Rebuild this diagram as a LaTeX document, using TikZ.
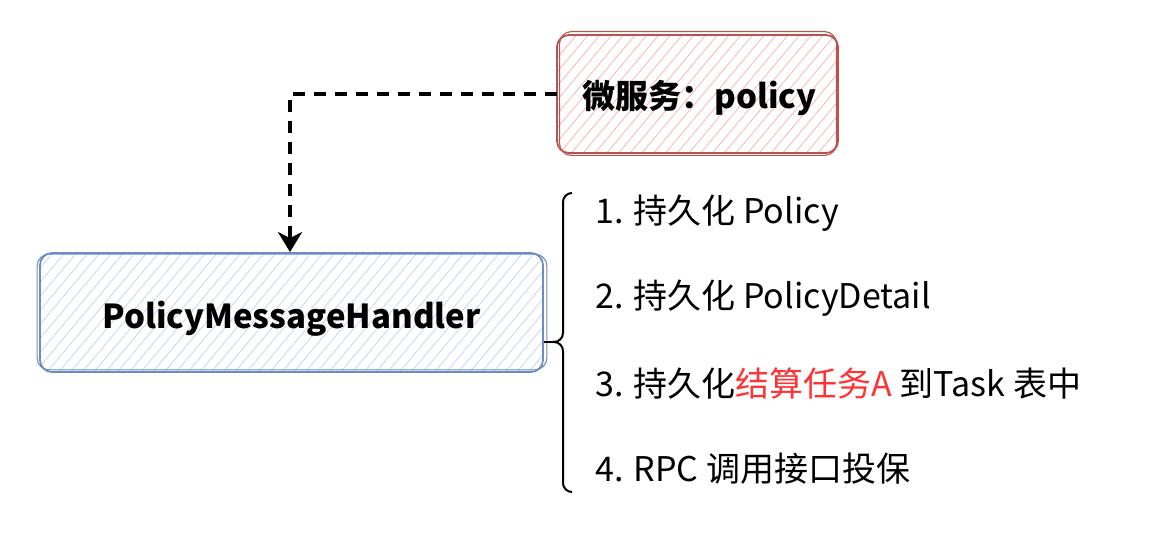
\documentclass[tikz,border=0pt]{standalone}
\usepackage{fontspec}
\setmainfont{Noto Sans CJK SC}
\usetikzlibrary{arrows.meta,patterns.meta,calc}
\definecolor{redline}{HTML}{B85450}
\definecolor{redhatch}{HTML}{F5BDBA}
\definecolor{blueline}{HTML}{6C8EBF}
\definecolor{bluehatch}{HTML}{C6DAF4}
\definecolor{hilite}{HTML}{FF3333}
\tikzset{
  sketchbox/.style={draw, line width=1.8pt, rounded corners=12pt, inner sep=0pt},
  redbox/.style={sketchbox, draw=redline, pattern={Lines[angle=50,distance=9pt,line width=0.9pt]}, pattern color=redhatch},
  bluebox/.style={sketchbox, draw=blueline, pattern={Lines[angle=50,distance=9pt,line width=0.9pt]}, pattern color=bluehatch},
  outline2/.style={line width=1.1pt, rounded corners=12pt},
  flow/.style={line width=3.8pt, dash pattern=on 12pt off 9pt, -{Stealth[length=20pt,width=24pt,inset=6pt]}},
  bracepath/.style={line width=2pt, rounded corners=9pt},
  item/.style={anchor=west, font=\fontsize{34}{37}\selectfont, inner sep=0pt},
  boxtext/.style={font=\bfseries\fontsize{33}{36}\selectfont}
}
\begin{document}
\begin{tikzpicture}[x=1pt,y=1pt]
\useasboundingbox (0,0) rectangle (1160,554);
% boxes
\node[redbox, minimum width=281pt, minimum height=118pt] (svc) at (697.5,460) {};
\node[boxtext] (svct) at ($(svc.center)+(2,-4)$) {微服务：policy};
\draw[redline, outline2] ($(svc.south west)+(3,-2)$) rectangle ($(svc.north east)+(-2,3)$);
\node[bluebox, minimum width=503pt, minimum height=119pt] (handler) at (291.5,241.5) {};
\node[boxtext] (handlert) at ($(handler.center)+(0,-6)$) {PolicyMessageHandler};
\draw[blueline, outline2] ($(handler.south west)+(-2,3)$) rectangle ($(handler.north east)+(3,-2)$);
% dashed arrow
\coordinate (bend) at (290,460);
\draw[flow] (svc.west) -- (bend) -- (bend |- handler.north);
% brace
\coordinate (bracetip) at (553,212);
\draw[bracepath] (572,361) -- (563,361) -- (563,212) -- (bracetip);
\draw[bracepath] (572,62) -- (563,62) -- (563,212) -- (bracetip);
\draw[line width=2pt] (handler.east |- bracetip) -- (bracetip);
% list
\node[item] (i1) at (595,341) {1. 持久化 Policy};
\node[item] (i2) at (595,256) {2. 持久化 PolicyDetail};
\node[item] (i3) at (595,170) {3. 持久化\textcolor{hilite}{结算任务A} 到Task 表中};
\node[item] (i4) at (595,85) {4. RPC 调用接口投保};
\end{tikzpicture}
\end{document}
